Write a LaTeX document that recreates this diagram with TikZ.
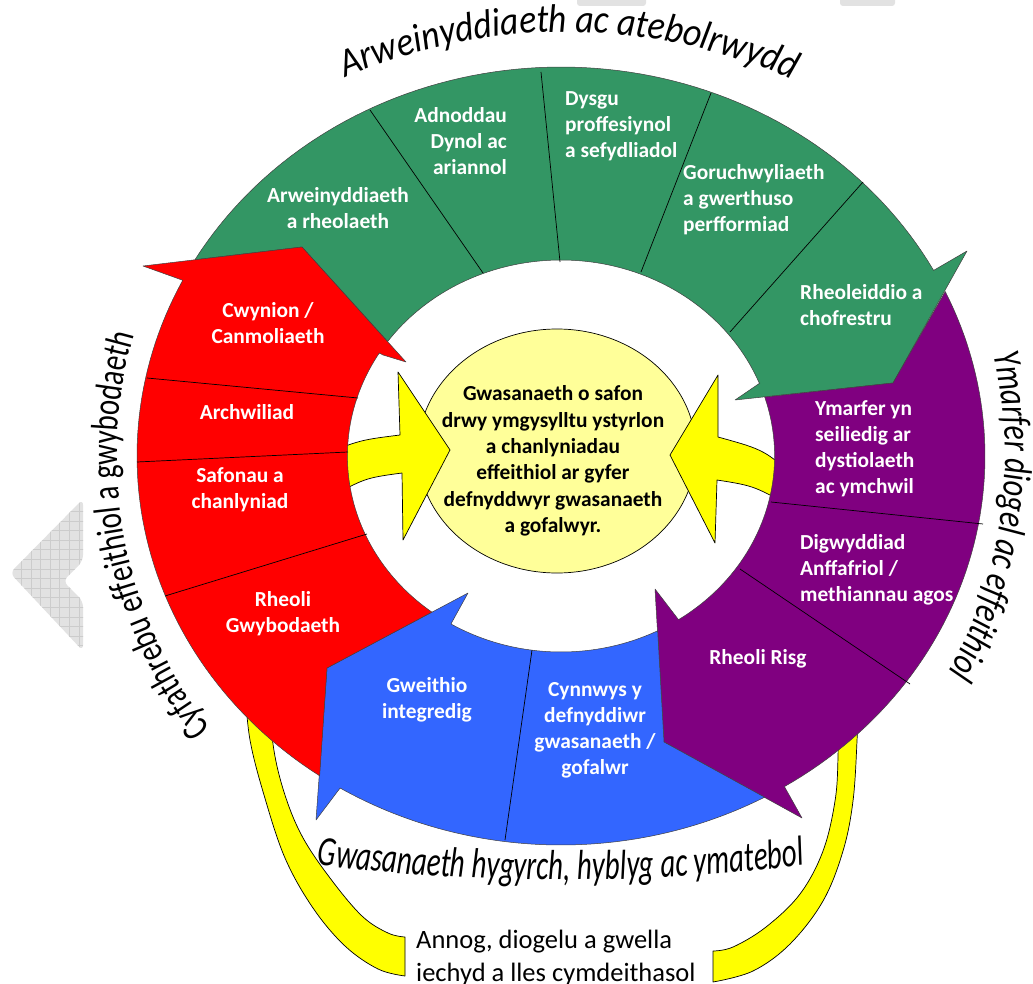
\documentclass[tikz,border=0pt]{standalone}
\usepackage{fontspec}
\setmainfont{Carlito}
\newfontfamily\condtop[FakeStretch=0.89]{Carlito}
\newfontfamily\condleft[FakeStretch=0.76]{Carlito}
\newfontfamily\condright[FakeStretch=0.77]{Carlito}
\newfontfamily\condbot[FakeStretch=0.69]{Carlito}
\usetikzlibrary{decorations.text}
\definecolor{ggreen}{RGB}{51,150,100}
\definecolor{gred}{RGB}{255,0,0}
\definecolor{gpurple}{RGB}{128,0,128}
\definecolor{gblue}{RGB}{51,102,255}
\definecolor{gyellow}{RGB}{255,255,0}
\definecolor{pale}{RGB}{255,255,153}
\definecolor{wm}{RGB}{226,226,226}
\definecolor{wmline}{RGB}{204,204,204}
\tikzset{
  ringshape/.style={draw=black!75, line width=0.5pt, line join=round},
  divider/.style={draw=black, line width=0.7pt},
  ybody/.style={fill=gyellow, draw=black, line width=0.7pt, line join=round},
  lab/.style={text=white, font=\bfseries\fontsize{21.4}{26}\selectfont, inner sep=0pt},
  darklab/.style={text=black, font=\bfseries\fontsize{21.4}{26.3}\selectfont, inner sep=0pt, align=center},
}
\begin{document}
\begin{tikzpicture}[x=1pt,y=-1pt]
\useasboundingbox (0,0) rectangle (1033,984);
\fill[white] (0,0) rectangle (1033,984);

% watermark shapes
\begin{scope}
\clip[rounded corners=6] (83,499) -- (10,573) -- (83,651) -- (83,601) -- (63,581) -- (83,561) -- cycle;
\fill[wm] (0,490) rectangle (90,660);
\foreach \gx in {2,11.6,...,90} \draw[wmline, line width=0.6pt] (\gx,490) -- (\gx,660);
\foreach \gy in {492,501.6,...,660} \draw[wmline, line width=0.6pt] (0,\gy) -- (90,\gy);
\end{scope}
\fill[wm, rounded corners=3] (577,-6) rectangle (646,6);
\fill[wm, rounded corners=3] (840,-6) rectangle (895,6);

% centre ellipse
\filldraw[fill=pale, draw=black, line width=0.7pt] (557,451) ellipse [x radius=139pt, y radius=122pt];

% yellow arrows and bands (under the ring)
\filldraw[ybody] (320,456) .. controls (360,440) .. (400,435) -- (398,372) -- (450,450) -- (403,540) -- (402,473) .. controls (365,478) .. (325,500) -- cycle;
\filldraw[ybody] (800,482) .. controls (765,450) .. (718,437) -- (718,375) -- (670,455) -- (715,543) -- (717,480) .. controls (755,486) .. (800,512) -- cycle;
\filldraw[ybody] plot[smooth, tension=0.6] coordinates {(270,690) (273,744) (284,792) (302,836) (330,878) (362,916) (388,933) (405,937)} -- (405,976) -- plot[smooth, tension=0.6] coordinates {(405,976) (378,969) (345,946) (313,908) (285,858) (264,795) (250,740) (245,690)} -- cycle;
\filldraw[ybody] plot[smooth, tension=0.6] coordinates {(838,700) (838,757) (835,801) (823,851) (800,894) (766,927) (733,947) (713,951)} -- (713,982) -- plot[smooth, tension=0.6] coordinates {(713,982) (753,971) (790,944) (823,901) (843,851) (853,801) (857,741) (858,700)} -- cycle;

% ring arrows
\filldraw[ringshape, fill=ggreen] (302,247) -- plot[domain=210.3:331.5, samples=80, variable=\t] ({561+424*cos(\t)},{456+389*sin(\t)}) -- (967,251) -- (893,383) -- (735,400) -- (760,383) -- plot[domain=338.2:215.75, samples=80, variable=\t] ({561+213.6*cos(\t)},{456+196*sin(\t)}) -- cycle;
\filldraw[ringshape, fill=gpurple] (893,383) -- plot[domain=-25:58.2, samples=60, variable=\t] ({561+424*cos(\t)},{456+389*sin(\t)}) -- (802,818) -- (664,742) -- (655,589) -- (678,619) -- plot[domain=56.6:-17.5, samples=60, variable=\t] ({561+213.6*cos(\t)},{456+196*sin(\t)}) -- cycle;
\filldraw[ringshape, fill=gblue] (664,742) -- plot[domain=61.3:121.4, samples=60, variable=\t] ({561+424*cos(\t)},{456+389*sin(\t)}) -- (316,820) -- (327,668) -- (468,593) -- (452,622) -- plot[domain=121:63.1, samples=60, variable=\t] ({561+213.6*cos(\t)},{456+196*sin(\t)}) -- cycle;
\filldraw[ringshape, fill=gred] (327,668) -- plot[domain=124.7:206.8, samples=60, variable=\t] ({561+424*cos(\t)},{456+389*sin(\t)}) -- (182,280) -- (143,266) -- (302,247) -- (406,362) -- (383,355) -- plot[domain=211.7:127.2, samples=60, variable=\t] ({561+213.6*cos(\t)},{456+196*sin(\t)}) -- cycle;

% dividers
\draw[divider] (370,110) -- (483,273);
\draw[divider] (541,72) -- (560,262);
\draw[divider] (711,93) -- (641,272);
\draw[divider] (863,182) -- (730,332);
\draw[divider] (147,378) -- (358,398);
\draw[divider] (137,462) -- (348,452);
\draw[divider] (165,596) -- (367,534);
\draw[divider] (771,502) -- (983,524);
\draw[divider] (740,569) -- (910,684);
\draw[divider] (532,650) -- (505,840);

% ring labels
\node[lab, align=center] (arw) at (338,208) {Arweinyddiaeth\\a rheolaeth};
\node[lab, align=right, anchor=east] (adn) at (507,141) {Adnoddau\\Dynol ac\\ariannol};
\node[lab, align=left, anchor=west] (dys) at (565,126) {Dysgu\\proffesiynol\\a sefydliadol};
\node[lab, align=left, anchor=west] (gor) at (683,200) {Goruchwyliaeth\\a gwerthuso\\perfformiad};
\node[lab, align=left, anchor=west] (rhe) at (800,305) {Rheoleiddio a\\chofrestru};
\node[lab, align=center] (cwy) at (268,323) {Cwynion /\\Canmoliaeth};
\node[lab, align=center] (arc) at (247,412) {Archwiliad};
\node[lab, align=center] (saf) at (240,490) {Safonau a\\chanlyniad};
\node[lab, align=center] (rgw) at (283,614) {Rheoli\\Gwybodaeth};
\node[lab, align=center] (gwe) at (427,700) {Gweithio\\integredig};
\node[lab, align=center] (cyn) at (595,730) {Cynnwys y\\defnyddiwr\\gwasanaeth /\\gofalwr};
\node[lab, align=left, anchor=west] (yma) at (815,449) {Ymarfer yn\\seiliedig ar\\dystiolaeth\\ac ymchwil};
\node[lab, align=left, anchor=west] (dig) at (800,570) {Digwyddiad\\Anffafriol /\\methiannau agos};
\node[lab, align=center] (ris) at (758,659) {Rheoli Risg};

\node[darklab] (core) at (553,461) {Gwasanaeth o safon\\drwy ymgysylltu ystyrlon\\a chanlyniadau\\effeithiol ar gyfer\\defnyddwyr gwasanaeth\\a gofalwyr.};

\node[inner sep=0pt, align=left, anchor=west, text=black, font=\fontsize{26.5}{33}\selectfont] (annog) at (416,958) {Annog, diogelu a gwella\\iechyd a lles cymdeithasol};

% curved titles
\path[decorate, decoration={text along path, text align=center, text={|\condtop\itshape\fontsize{40}{40}\selectfont|Arweinyddiaeth ac atebolrwydd}}]
  plot[domain=-122:-57.4, samples=120, variable=\t] ({566+560*cos(\t)},{592+560*sin(\t)});
\path[decorate, decoration={text along path, text align=center, text={|\condleft\fontsize{38}{38}\selectfont|Cyfathrebu effeithiol a gwybodaeth}}]
  plot[domain=125:213, samples=120, variable=\t] ({561+444*cos(\t)},{456+444*sin(\t)});
\path[decorate, decoration={text along path, text align=center, text={|\condright\itshape\fontsize{39}{39}\selectfont|Ymarfer diogel ac effeithiol}}]
  plot[domain=-30:46, samples=120, variable=\t] ({561+444*cos(\t)},{456+444*sin(\t)});
\path[decorate, decoration={text along path, text align=center, text={|\condbot\itshape\fontsize{42}{42}\selectfont|Gwasanaeth hygyrch, hyblyg ac ymatebol}}]
  plot[domain=250:872, samples=100, variable=\t] ({\t},{880-2.54*((\t-561)/100)^2});
\end{tikzpicture}
\end{document}
